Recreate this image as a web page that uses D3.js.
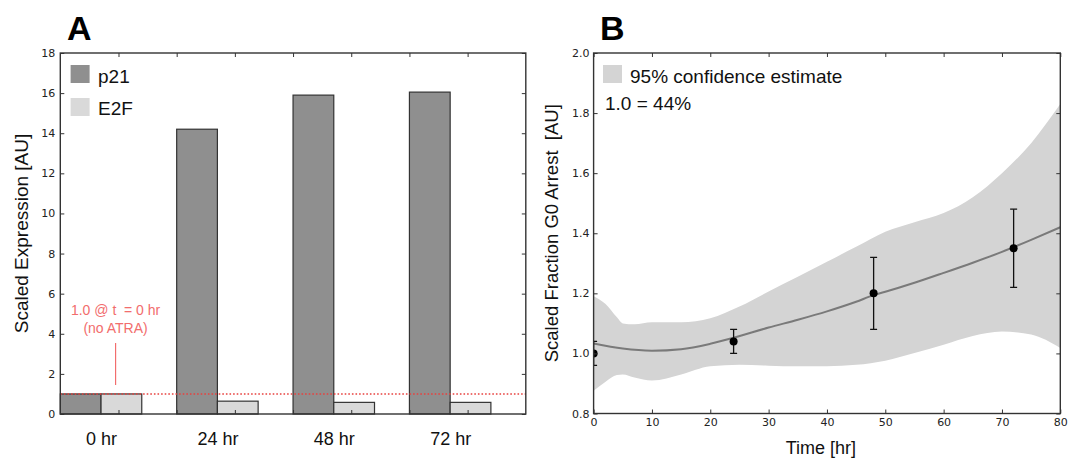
<!DOCTYPE html>
<html lang="en">
<head>
<meta charset="UTF-8">
<title>p21 / E2F expression and G0 arrest</title>
<script src="https://d3js.org/d3.v7.min.js"></script>
<style>
    body { margin: 0; background: #fff; }
    svg { display: block; background: #fff; }
    .tick text { font-family: "DejaVu Sans", sans-serif; font-size: 11px; fill: #222; }
    .tick line { stroke: #333; stroke-width: 1; }
    .domain { display: none; }
    .lab { font-family: "Liberation Sans", Arial, sans-serif; fill: #111; white-space: pre; }
    .panel { font-family: "Liberation Sans", Arial, sans-serif; font-weight: 900; font-size: 34px; fill: #000; }
</style>
</head>
<body>
<svg id="chart" width="1069" height="460"></svg>
<script>
// ---- panel A data ----
var timepoints = ["0 hr", "24 hr", "48 hr", "72 hr"];
var p21 = [1.0, 14.2, 15.9, 16.05];
var e2f = [1.0, 0.64, 0.58, 0.58];
var yTicksA = [0, 2, 4, 6, 8, 10, 12, 14, 16, 18];
var baseline = 1.0;

// ---- panel B data ----
var obsTime = [0, 24, 48, 72];
var obsValue = [1.0, 1.04, 1.2, 1.35];
var obsLow = [0.96, 1.0, 1.08, 1.22];
var obsHigh = [1.04, 1.08, 1.32, 1.48];

var fitTime = [0, 5, 10, 15, 20, 24, 30, 35, 40, 45, 48, 50, 55, 60, 65, 70, 75, 80];
var fitValue = [1.033, 1.016, 1.009, 1.014, 1.032, 1.052, 1.086, 1.112, 1.14, 1.172, 1.194, 1.205, 1.235, 1.268, 1.302, 1.338, 1.378, 1.42];

var bandTime = [0, 2, 4, 5, 7, 10, 15, 20, 25, 30, 35, 40, 45, 50, 55, 60, 65, 70, 75, 80];
var bandHigh = [1.19, 1.165, 1.12, 1.10, 1.097, 1.104, 1.104, 1.117, 1.156, 1.206, 1.255, 1.305, 1.355, 1.405, 1.437, 1.467, 1.52, 1.60, 1.70, 1.83];
var bandLow = [0.876, 0.905, 0.928, 0.93, 0.92, 0.91, 0.93, 0.957, 0.962, 0.959, 0.957, 0.957, 0.962, 0.976, 1.001, 1.029, 1.058, 1.073, 1.063, 1.018];

var xTicksB = [0, 10, 20, 30, 40, 50, 60, 70, 80];
var yTicksB = [0.8, 1.0, 1.2, 1.4, 1.6, 1.8, 2.0];

var svg = d3.select("#chart");

// =============== Panel A ===============
var xA = d3.scaleLinear().domain([0, 4]).range([60.3, 525.8]);
var yA = d3.scaleLinear().domain([0, 18]).range([414, 53]);
var barW = 0.35;

var gA = svg.append("g");

gA.selectAll("rect.p21")
    .data(p21)
    .enter()
    .append("rect")
    .attr("class", "p21")
    .attr("x", function (d, i) { return xA(i) })
    .attr("y", function (d) { return yA(d) })
    .attr("width", xA(barW) - xA(0))
    .attr("height", function (d) { return yA(0) - yA(d) })
    .attr("fill", "#8f8f8f")
    .attr("stroke", "#333")
    .attr("stroke-width", 1.2);

gA.selectAll("rect.e2f")
    .data(e2f)
    .enter()
    .append("rect")
    .attr("class", "e2f")
    .attr("x", function (d, i) { return xA(i + barW) })
    .attr("y", function (d) { return yA(d) })
    .attr("width", xA(barW) - xA(0))
    .attr("height", function (d) { return yA(0) - yA(d) })
    .attr("fill", "#d9d9d9")
    .attr("stroke", "#333")
    .attr("stroke-width", 1.2);

// inward ticks on all four sides
gA.append("g").attr("transform", "translate(" + xA(0) + ",0)")
    .call(d3.axisLeft(yA).tickValues(yTicksA).tickSize(-4).tickPadding(5).tickFormat(d3.format("d")));
gA.append("g").attr("transform", "translate(" + xA(4) + ",0)")
    .call(d3.axisRight(yA).tickValues(yTicksA).tickSize(-4).tickFormat(""));
gA.append("g").attr("transform", "translate(0," + yA(0) + ")")
    .call(d3.axisBottom(xA).tickValues(d3.range(0.5, 4, 0.5)).tickSize(-4).tickFormat(""));
gA.append("g").attr("transform", "translate(0," + yA(18) + ")")
    .call(d3.axisTop(xA).tickValues(d3.range(0.5, 4, 0.5)).tickSize(-4).tickFormat(""));

// category labels
var catAxis = gA.append("g").attr("transform", "translate(0," + yA(0) + ")")
    .call(d3.axisBottom(xA).tickValues(d3.range(timepoints.length).map(function (i) { return i + barW }))
        .tickSize(0).tickPadding(18).tickFormat(function (d, i) { return timepoints[i] }));
catAxis.selectAll("text")
    .style("font-family", "'Liberation Sans', Arial, sans-serif")
    .style("font-size", "18px")
    .style("fill", "#111");

// baseline reference
gA.append("line")
    .attr("x1", xA(0)).attr("x2", xA(4))
    .attr("y1", yA(baseline)).attr("y2", yA(baseline))
    .attr("stroke", "#e8413f")
    .attr("stroke-width", 1.5)
    .attr("stroke-dasharray", "1.6,2");

gA.append("line")
    .attr("x1", xA(0.475)).attr("x2", xA(0.475))
    .attr("y1", 343).attr("y2", 385)
    .attr("stroke", "#f26d6d")
    .attr("stroke-width", 1.2);

gA.append("text")
    .attr("class", "lab")
    .attr("x", xA(0.475)).attr("y", 315)
    .attr("text-anchor", "middle")
    .style("font-size", "14px").style("fill", "#f26d6d")
    .text("1.0 @ t  = 0 hr");
gA.append("text")
    .attr("class", "lab")
    .attr("x", xA(0.475)).attr("y", 333)
    .attr("text-anchor", "middle")
    .style("font-size", "14px").style("fill", "#f26d6d")
    .text("(no ATRA)");

// legend
var legA = [["p21", "#8f8f8f"], ["E2F", "#d9d9d9"]];
legA.forEach(function (d, i) {
    gA.append("rect")
        .attr("x", 70.6).attr("y", 65 + i * 33)
        .attr("width", 19).attr("height", 18)
        .attr("fill", d[1]);
    gA.append("text")
        .attr("class", "lab")
        .attr("x", 98).attr("y", 83 + i * 32)
        .style("font-size", "19px")
        .text(d[0]);
});

gA.append("rect")
    .attr("x", xA(0)).attr("y", yA(18))
    .attr("width", xA(4) - xA(0)).attr("height", yA(0) - yA(18))
    .attr("fill", "none").attr("stroke", "#333").attr("stroke-width", 1.4);

gA.append("text")
    .attr("class", "lab")
    .attr("transform", "translate(28," + (yA(9)) + ") rotate(-90)")
    .attr("text-anchor", "middle")
    .style("font-size", "19px")
    .text("Scaled Expression [AU]");

gA.append("text").attr("class", "panel").attr("x", 67).attr("y", 40).text("A");

// =============== Panel B ===============
var xB = d3.scaleLinear().domain([0, 80]).range([593.6, 1060.3]);
var yB = d3.scaleLinear().domain([0.8, 2.0]).range([413.5, 53]);

var gB = svg.append("g");

svg.append("defs").append("clipPath").attr("id", "clipB")
    .append("rect")
    .attr("x", xB(0)).attr("y", yB(2.0))
    .attr("width", xB(80) - xB(0)).attr("height", yB(0.8) - yB(2.0));

var plotB = gB.append("g").attr("clip-path", "url(#clipB)");

var band = d3.area()
    .x(function (d, i) { return xB(bandTime[i]) })
    .y0(function (d, i) { return yB(bandLow[i]) })
    .y1(function (d, i) { return yB(bandHigh[i]) })
    .curve(d3.curveMonotoneX);

plotB.append("path")
    .attr("d", band(bandTime))
    .attr("fill", "#d4d4d4");

var fitLine = d3.line()
    .x(function (d, i) { return xB(fitTime[i]) })
    .y(function (d, i) { return yB(fitValue[i]) })
    .curve(d3.curveMonotoneX);

plotB.append("path")
    .attr("d", fitLine(fitTime))
    .attr("fill", "none")
    .attr("stroke", "#7a7a7a")
    .attr("stroke-width", 2);

var errs = plotB.selectAll("g.err")
    .data(obsTime)
    .enter()
    .append("g")
    .attr("class", "err");

errs.append("line")
    .attr("x1", function (d) { return xB(d) })
    .attr("x2", function (d) { return xB(d) })
    .attr("y1", function (d, i) { return yB(obsLow[i]) })
    .attr("y2", function (d, i) { return yB(obsHigh[i]) })
    .attr("stroke", "#111").attr("stroke-width", 1.3);
errs.append("line")
    .attr("x1", function (d) { return xB(d) - 3.5 })
    .attr("x2", function (d) { return xB(d) + 3.5 })
    .attr("y1", function (d, i) { return yB(obsLow[i]) })
    .attr("y2", function (d, i) { return yB(obsLow[i]) })
    .attr("stroke", "#111").attr("stroke-width", 1.3);
errs.append("line")
    .attr("x1", function (d) { return xB(d) - 3.5 })
    .attr("x2", function (d) { return xB(d) + 3.5 })
    .attr("y1", function (d, i) { return yB(obsHigh[i]) })
    .attr("y2", function (d, i) { return yB(obsHigh[i]) })
    .attr("stroke", "#111").attr("stroke-width", 1.3);
errs.append("circle")
    .attr("cx", function (d) { return xB(d) })
    .attr("cy", function (d, i) { return yB(obsValue[i]) })
    .attr("r", 4)
    .attr("fill", "#000");

gB.append("g").attr("transform", "translate(" + xB(0) + ",0)")
    .call(d3.axisLeft(yB).tickValues(yTicksB).tickSize(-4).tickPadding(4).tickFormat(d3.format(".1f")));
gB.append("g").attr("transform", "translate(" + xB(80) + ",0)")
    .call(d3.axisRight(yB).tickValues(yTicksB).tickSize(-4).tickFormat(""));
gB.append("g").attr("transform", "translate(0," + yB(0.8) + ")")
    .call(d3.axisBottom(xB).tickValues(xTicksB).tickSize(-4).tickPadding(5).tickFormat(d3.format("d")));
gB.append("g").attr("transform", "translate(0," + yB(2.0) + ")")
    .call(d3.axisTop(xB).tickValues(xTicksB).tickSize(-4).tickFormat(""));

gB.append("rect")
    .attr("x", xB(0)).attr("y", yB(2.0))
    .attr("width", xB(80) - xB(0)).attr("height", yB(0.8) - yB(2.0))
    .attr("fill", "none").attr("stroke", "#333").attr("stroke-width", 1.4);

gB.append("rect")
    .attr("x", 603).attr("y", 65)
    .attr("width", 19).attr("height", 18)
    .attr("fill", "#d4d4d4");
gB.append("text")
    .attr("class", "lab")
    .attr("x", 630).attr("y", 83)
    .style("font-size", "19px")
    .text("95% confidence estimate");
gB.append("text")
    .attr("class", "lab")
    .attr("x", 605).attr("y", 110)
    .style("font-size", "19px")
    .text("1.0 = 44%");

gB.append("text")
    .attr("class", "lab")
    .attr("x", (xB(0) + xB(80)) / 2 - 6).attr("y", 454)
    .attr("text-anchor", "middle")
    .style("font-size", "18px")
    .text("Time [hr]");

gB.append("text")
    .attr("class", "lab")
    .attr("transform", "translate(558," + yB(1.4) + ") rotate(-90)")
    .attr("text-anchor", "middle")
    .style("font-size", "18.5px")
    .text("Scaled Fraction G0 Arrest  [AU]");

gB.append("text").attr("class", "panel").attr("x", 600).attr("y", 40).text("B");
</script>
</body>
</html>
